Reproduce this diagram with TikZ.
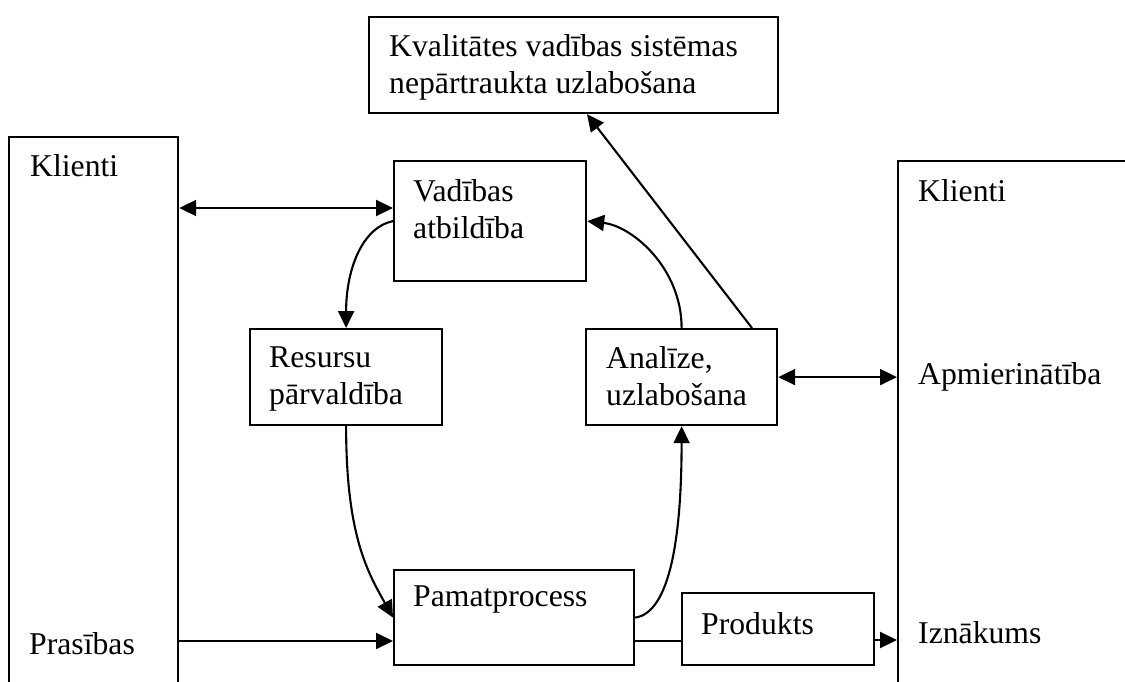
\documentclass[tikz,border=0pt]{standalone}
\usepackage{fontspec}
\setmainfont{Liberation Serif}
\usetikzlibrary{arrows.meta,calc}
\begin{document}
\begin{tikzpicture}[x=1pt,y=-1pt,
  box/.style={draw, line width=2.2pt, rectangle, inner sep=0pt, anchor=north west},
  txt/.style={inner sep=0pt, anchor=north west, align=left, font=\fontsize{31.7}{37}\selectfont},
  lbl/.style={inner sep=0pt, anchor=base west, font=\fontsize{31.7}{37}\selectfont},
  conn/.style={line width=2.1pt},
  arr/.style={conn, -{Triangle[length=17pt,width=16pt]}},
  dbl/.style={conn, {Triangle[length=17pt,width=16pt]}-{Triangle[length=17pt,width=16pt]}},
]
\useasboundingbox (0,0) rectangle (1125,682);
\clip (0,0) rectangle (1125,682);
\fill[white] (0,0) rectangle (1125,682);

% side rectangles (extend beyond the page)
\node[box, minimum width=169pt, minimum height=600pt] (lrect) at (8,136) {};
\node[box, minimum width=300pt, minimum height=600pt] (rrect) at (897,160) {};

% boxes
\node[box, minimum width=409pt, minimum height=96pt] (top) at (368,16) {};
\node[box, minimum width=192pt, minimum height=120pt] (vad) at (393,160) {};
\node[box, minimum width=192pt, minimum height=96pt] (res) at (249,328) {};
\node[box, minimum width=191pt, minimum height=96pt] (ana) at (585,328) {};
\node[box, minimum width=240pt, minimum height=95pt] (pam) at (393,569) {};
\node[box, minimum width=192pt, minimum height=72pt] (prod) at (681,592) {};

% texts
\node[txt] (ttop) at (389,34) {Kvalitātes vadības sistēmas\\nepārtraukta uzlabošana};
\node[txt] (tvad) at (413,179) {Vadības\\atbildība};
\node[txt] (tres) at (269,347) {Resursu\\pārvaldība};
\node[txt] (tana) at (606,346) {Analīze,\\uzlabošana};
\node[txt] (tpam) at (413,586) {Pamatprocess};
\node[txt] (tprod) at (701,612) {Produkts};
\node[lbl] (kl) at (30,176) {Klienti};
\node[lbl] (pr) at (29,654) {Prasības};
\node[lbl] (kr) at (918,201) {Klienti};
\node[lbl] (ap) at (918,384) {Apmierinātība};
\node[lbl] (iz) at (918,643) {Iznākums};

% connectors
\coordinate (v1) at ($(vad.north west)+(0,48)$);
\draw[dbl] (lrect.east |- v1) -- (v1);
\draw[dbl] (ana.east) -- (rrect.west |- ana.east);
\coordinate (p1) at ($(pam.north west)+(0,72)$);
\draw[arr] (lrect.east |- p1) -- (p1);
\coordinate (p2) at ($(pam.north east)+(0,72)$);
\draw[conn] (p2) -- (prod.west |- p2);
\coordinate (q1) at ($(prod.north east)+(0,48)$);
\draw[arr] (q1) -- (rrect.west |- q1);
\coordinate (a1) at ($(ana.north west)+(167,0)$);
\coordinate (t1) at ($(top.south west)+(219,0)$);
\draw[arr] (a1) -- (t1);

\draw[arr] (vad.west) .. controls +(-30,6) and +(0,-60) .. (res.north);
\draw[arr] (res.south) .. controls +(0,110) and +(-25,-45) .. (pam.west);
\draw[arr] (pam.east) .. controls +(35,-5) and +(0,110) .. (ana.south);
\draw[arr] (ana.north) .. controls +(0,-60) and +(45,5) .. (vad.east);
\end{tikzpicture}
\end{document}
